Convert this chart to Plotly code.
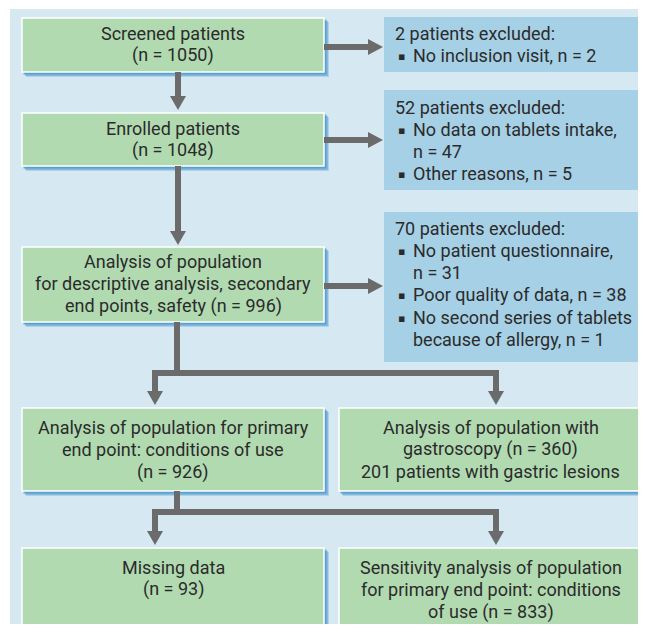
import plotly.graph_objects as go

# ---------------- data ----------------
screened = ["Screened patients", "(n = 1050)"]
enrolled = ["Enrolled patients", "(n = 1048)"]
analysis = ["Analysis of population", "for descriptive analysis, secondary", "end points, safety (n = 996)"]
primary = ["Analysis of population for primary", "end point: conditions of use", "(n = 926)"]
gastro = ["Analysis of population with", "gastroscopy (n = 360)", "201 patients with gastric lesions"]
missing = ["Missing data", "(n = 93)"]
sensitivity = ["Sensitivity analysis of population", "for primary end point: conditions", "of use (n = 833)"]

excl_headers = ["2 patients excluded:", "52 patients excluded:", "70 patients excluded:"]
excl_items = [
    [["No inclusion visit, n = 2"]],
    [["No data on tablets intake,", "n = 47"], ["Other reasons, n = 5"]],
    [["No patient questionnaire,", "n = 31"], ["Poor quality of data, n = 38"],
     ["No second series of tablets", "because of allergy, n = 1"]],
]

# ---------------- style / layout ----------------
# page has an 8px body margin: map data units to page pixels
OFF = 8
W, H = 646 - 2 * OFF, 632 - 2 * OFF
FONT = "Roboto"
FS = 18
TXT = "#2b2b2b"
GREEN = "#b1dab1"
BLUE = "#a6d0e6"
BG = "#d6e8f1"
ARROW = "#6b6b6b"
LS = 22.3  # line spacing

green_boxes = [
    (screened, (22, 18, 324, 72), 33),
    (enrolled, (22, 113, 324, 166), 128),
    (analysis, (22, 247, 324, 322), 261),
    (primary, (22, 408, 324, 491), 427),
    (gastro, (339, 408, 642, 491), 427),
    (missing, (22, 548, 324, 630), 567),
    (sensitivity, (339, 548, 642, 630), 567),
]
excl_boxes = [(384, 17, 640, 72, 33), (384, 90, 640, 190, 107), (384, 212, 640, 362, 228)]

shapes = []
annotations = []

# background panel
shapes.append(dict(type="rect", x0=10, y0=9, x1=660, y1=660, fillcolor=BG, line_width=0, layer="below"))

def add_text(x, y, s, anchor="center"):
    annotations.append(dict(x=x, y=y, text=s, showarrow=False, xanchor=anchor, yanchor="middle",
                            font=dict(family=FONT, size=FS, color=TXT)))

for lines, (x0, y0, x1, y1), ty in green_boxes:
    # soft shadow
    for d, c in [(5, "rgba(100,170,215,0.35)"), (4, "rgba(90,160,210,0.5)"), (2.5, "rgba(80,155,205,0.8)")]:
        shapes.append(dict(type="rect", x0=x0 + d - 1, y0=y0 + d - 1, x1=x1 + d, y1=y1 + d,
                           fillcolor=c, line_width=0))
    shapes.append(dict(type="rect", x0=x0, y0=y0, x1=x1, y1=y1, fillcolor=GREEN,
                       line=dict(color="white", width=1.5)))
    cx = (x0 + x1) / 2
    for i, s in enumerate(lines):
        add_text(cx, ty + i * LS, s)

for (x0, y0, x1, y1, ty), head, items in zip(excl_boxes, excl_headers, excl_items):
    shapes.append(dict(type="rect", x0=x0, y0=y0, x1=x1, y1=y1, fillcolor=BLUE, line_width=0))
    add_text(x0 + 9, ty, head, "left")
    k = 1
    for item in items:
        for j, s in enumerate(item):
            if j == 0:
                annotations.append(dict(x=x0 + 17, y=ty + k * LS + 1, text="\u25aa", showarrow=False,
                                        xanchor="center", yanchor="middle",
                                        font=dict(family="DejaVu Sans", size=11, color=TXT)))
            add_text(x0 + 27, ty + k * LS, s, "left")
            k += 1

# arrows
def seg(xa, ya, xb, yb):
    shapes.append(dict(type="line", x0=xa, y0=ya, x1=xb, y1=yb, line=dict(color=ARROW, width=6)))

def head_down(x, tip):
    shapes.append(dict(type="path", path=f"M {x-8},{tip-14} L {x+8},{tip-14} L {x},{tip} Z",
                       fillcolor=ARROW, line_width=0))

def head_right(tip, y):
    shapes.append(dict(type="path", path=f"M {tip-15},{y-8} L {tip-15},{y+8} L {tip},{y} Z",
                       fillcolor=ARROW, line_width=0))

def arrow_down(x, ya, tip):
    seg(x, ya, x, tip - 12)
    head_down(x, tip)

def arrow_right(xa, tip, y):
    seg(xa, y, tip - 13, y)
    head_right(tip, y)

arrow_down(178, 72, 110)
arrow_down(178, 166, 245)
arrow_right(324, 383, 47)
arrow_right(324, 383, 140)
arrow_right(324, 383, 286)

for top, ybar, tip in [(322, 373, 405), (491, 512, 545)]:
    seg(177, top, 177, ybar + 3)
    seg(152, ybar, 499, ybar)
    arrow_down(155, ybar - 3, tip)
    arrow_down(496, ybar - 3, tip)

fig = go.Figure()
fig.update_layout(
    width=W, height=H, margin=dict(l=0, r=0, t=0, b=0),
    paper_bgcolor="white", plot_bgcolor="white",
    xaxis=dict(range=[OFF, OFF + W], visible=False, fixedrange=True),
    yaxis=dict(range=[OFF + H, OFF], visible=False, fixedrange=True),
    shapes=shapes, annotations=annotations, showlegend=False,
)
fig.write_html("out.html")
